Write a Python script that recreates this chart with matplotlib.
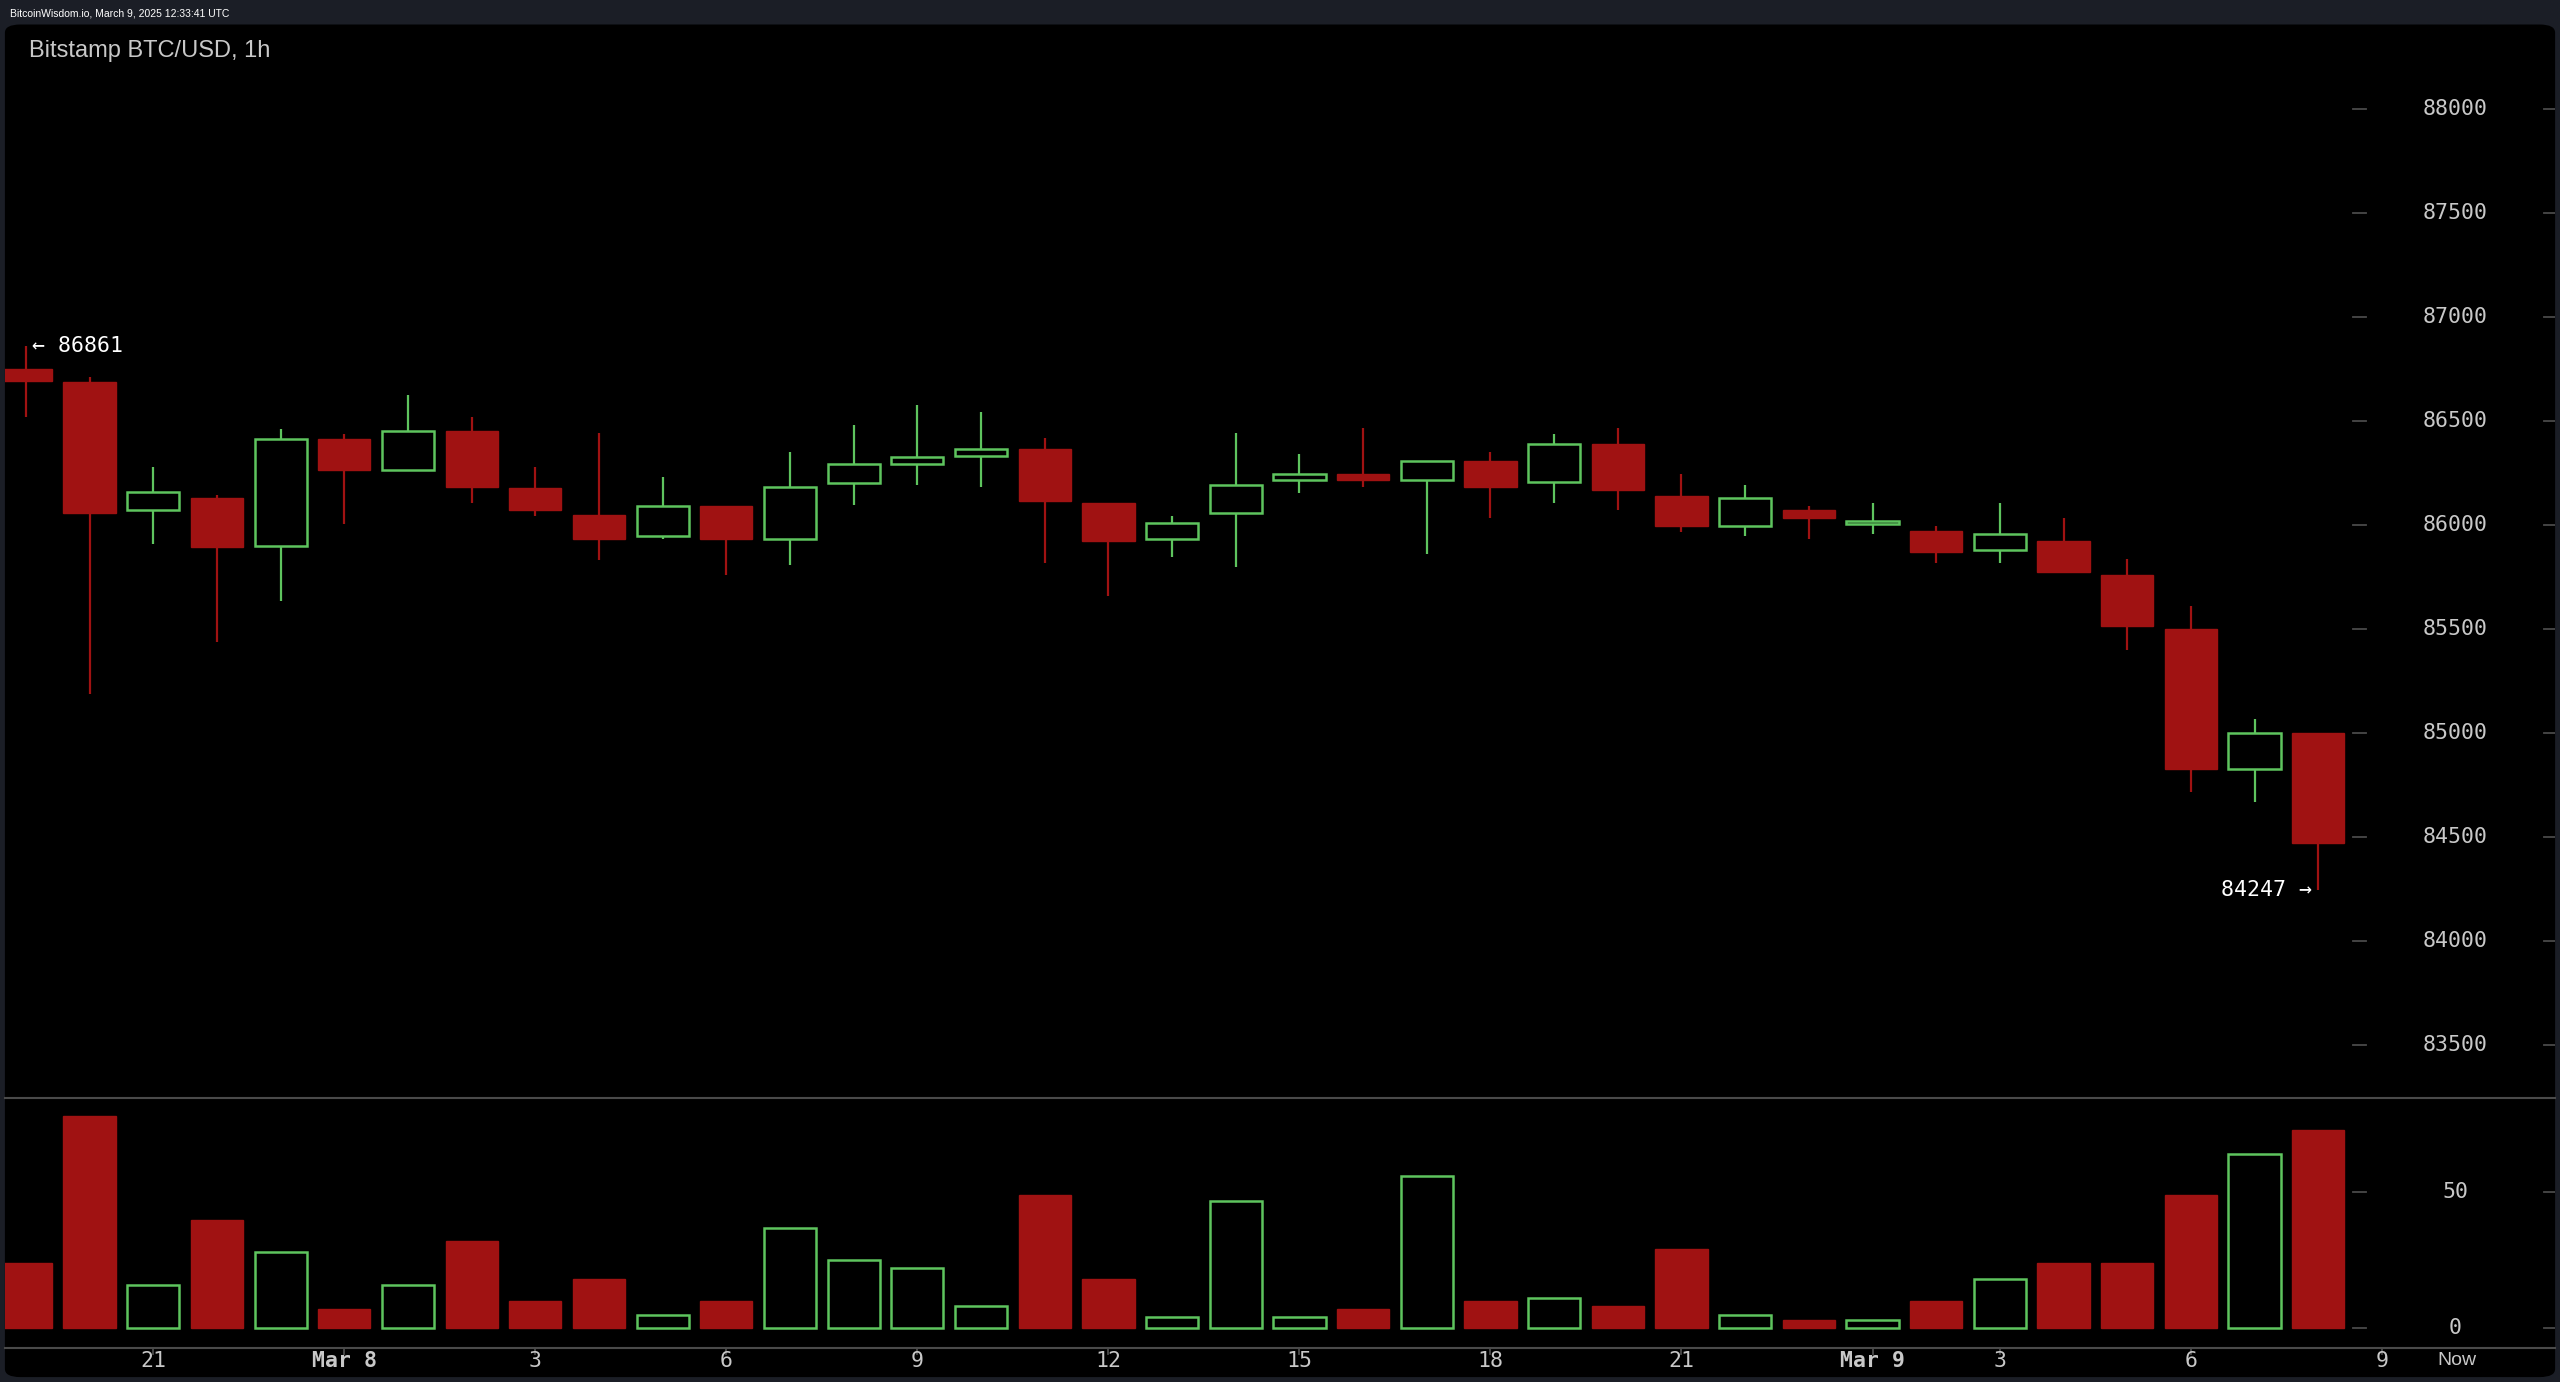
import matplotlib
matplotlib.use("Agg")
import matplotlib.pyplot as plt
from matplotlib.patches import Rectangle, FancyBboxPatch

# OHLC hourly candles, Mar 7 19:00 -> Mar 9 07:00 UTC
opens  = [86751,86688,86076,86131,85903,86414,86264,86453,86178,86052,85950,86092,85934,86202,86296,86335,
          86366,86107,85934,86060,86217,86249,86217,86311,86209,86390,86139,85997,86076,86005,85974,85880,
          85926,85762,85503,84827,85000]
highs  = [86861,86712,86280,86147,86461,86437,86626,86523,86280,86445,86233,86092,86351,86484,86578,86547,
          86421,86107,86044,86445,86343,86469,86311,86351,86437,86469,86249,86194,86092,86107,85997,86107,
          86037,85840,85612,85071,85000]
lows   = [86523,85188,85911,85440,85636,86005,86264,86107,86044,85832,85934,85762,85809,86099,86194,86186,
          85817,85660,85848,85801,86154,86186,85864,86037,86107,86076,85966,85950,85934,85958,85817,85817,
          85777,85400,84717,84670,84247]
closes = [86696,86060,86162,85895,86414,86264,86453,86186,86076,85934,86092,85934,86186,86296,86327,86366,
          86115,85926,86013,86194,86249,86217,86311,86186,86390,86170,85997,86131,86037,86021,85872,85958,
          85777,85518,84827,85000,84474]
volumes = [24,78,16,40,28,7,16,32,10,18,5,10,37,25,22,8,49,18,4,47,4,7,56,10,11,8,29,5,3,3,10,18,24,24,49,64,73]
price_ticks = [83500,84000,84500,85000,85500,86000,86500,87000,87500,88000]
vol_ticks = [0,50]
x_labels = ["21","Mar 8","3","6","9","12","15","18","21","Mar 9","3","6","9"]
x_label_pos = [2,5,8,11,14,17,20,23,26,29,31,34,37]

RED = "#a01212"; GREEN = "#5ec45e"; TXT = "#c8c8c8"; GRID = "#4a4a4a"
W, H = 1568, 846
fig = plt.figure(figsize=(25.6, 13.82), dpi=100)
fig.patch.set_facecolor("#1b1e26")
bg = FancyBboxPatch((3/W, 3/H), 1562/W, 828/H, boxstyle="round,pad=0,rounding_size=0.006",
                    transform=fig.transFigure, facecolor="black", edgecolor="none", zorder=-10)
fig.patches.append(bg)
fig.text(6/W, 1-8/H, "BitcoinWisdom.io, March 9, 2025 12:33:41 UTC", color="white", fontsize=7.5,
         va="center", ha="left", family="Liberation Sans")
fig.text(18/W, 1-31/H, "Bitstamp BTC/USD, 1h", color=TXT, fontsize=17, va="center", ha="left",
         family="Liberation Sans")

xl = (-0.33, 39.72)
axp = fig.add_axes([3/W, 1-672/H, 1562/W, (672-15)/H])
axv = fig.add_axes([3/W, 1-825/H, 1562/W, (825-672)/H])
for ax in (axp, axv):
    ax.set_facecolor("none")
    ax.set_zorder(5)
    ax.set_xlim(*xl)
    ax.set_xticks([]); ax.set_yticks([])
    for s in ax.spines.values(): s.set_visible(False)
axp.set_ylim(83248, 88408)
axv.set_ylim(-7.2, 84.9)
bw = 0.82
for i, (o, h, l, c, v) in enumerate(zip(opens, highs, lows, closes, volumes)):
    up = c >= o
    col = GREEN if up else RED
    lo_b, hi_b = min(o, c), max(o, c)
    axp.plot([i, i], [l, lo_b], color=col, lw=1.6, solid_capstyle="butt")
    axp.plot([i, i], [hi_b, h], color=col, lw=1.6, solid_capstyle="butt")
    if up:
        axp.add_patch(Rectangle((i-bw/2, lo_b), bw, max(hi_b-lo_b, 8), facecolor="black", edgecolor=col, lw=1.8))
        axv.add_patch(Rectangle((i-bw/2, 0), bw, v, facecolor="black", edgecolor=col, lw=1.8))
    else:
        axp.add_patch(Rectangle((i-bw/2, lo_b), bw, max(hi_b-lo_b, 8), facecolor=col, edgecolor=col, lw=1))
        axv.add_patch(Rectangle((i-bw/2, 0), bw, v, facecolor=col, edgecolor=col, lw=1))

for p in price_ticks:
    axp.plot([36.55, 36.75], [p, p], color=GRID, lw=1.3)
    axp.plot([39.55, 39.72], [p, p], color=GRID, lw=1.3)
    axp.text(38.15, p, str(p), color=TXT, fontsize=15.5, family="DejaVu Sans Mono", ha="center", va="center")
for v in vol_ticks:
    axv.plot([36.55, 36.75], [v, v], color=GRID, lw=1.3)
    axv.plot([39.55, 39.72], [v, v], color=GRID, lw=1.3)
    axv.text(38.15, v, str(v), color=TXT, fontsize=15.5, family="DejaVu Sans Mono", ha="center", va="center")

axp.text(0.1, highs[0], "\u2190 " + str(highs[0]), color="white", fontsize=15.5, family="DejaVu Sans Mono",
         ha="left", va="center")
axp.text(35.9, lows[-1], str(lows[-1]) + " \u2192", color="white", fontsize=15.5, family="DejaVu Sans Mono",
         ha="right", va="center")

# separators
fig.add_artist(plt.Line2D([3/W, 1565/W], [1-672/H]*2, color=GRID, lw=1.5))
fig.add_artist(plt.Line2D([3/W, 1565/W], [1-825/H]*2, color=GRID, lw=1.5))
for lab, pos in zip(x_labels, x_label_pos):
    xf = (3 + (pos - xl[0]) / (xl[1]-xl[0]) * 1562) / W
    fig.add_artist(plt.Line2D([xf, xf], [1-825/H, 1-829/H], color=GRID, lw=1.3))
    fig.text(xf, 1-833/H, lab, color=TXT, fontsize=15.5, family="DejaVu Sans Mono", ha="center", va="center",
             fontweight="bold" if lab.startswith("Mar") else "normal")
fig.text(1505/W, 1-833/H, "Now", color=TXT, fontsize=14, family="Liberation Sans", ha="center", va="center")

fig.savefig("out.png", dpi=100, facecolor=fig.get_facecolor())
